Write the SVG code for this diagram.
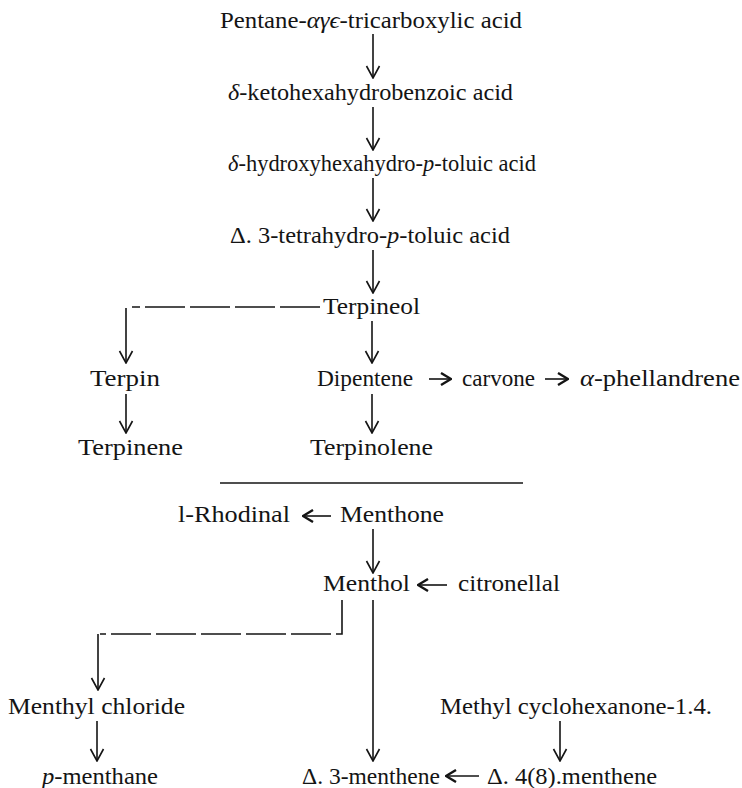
<svg xmlns="http://www.w3.org/2000/svg" width="742" height="788" viewBox="0 0 742 788">
<style>
text{font-family:"Liberation Serif","Times New Roman",serif;font-size:24px;fill:#141414}
.i{font-style:italic}
.ln{stroke:#141414;stroke-width:1.6;fill:none}
.ds{stroke-dasharray:40 5}
.ar{marker-end:url(#v)}
.ah{stroke-width:1.6;marker-end:url(#h)}
</style>
<defs>
<marker id="v" viewBox="0 0 14 16" refX="13" refY="8" markerWidth="14" markerHeight="16" markerUnits="userSpaceOnUse" orient="auto">
<path d="M1,1.5 L13,8 L1,14.5" fill="none" stroke="#141414" stroke-width="1.6"/>
</marker>
<marker id="h" viewBox="0 0 12 14" refX="11" refY="7" markerWidth="12" markerHeight="14" markerUnits="userSpaceOnUse" orient="auto">
<path d="M1,1 L11,7 L1,13" fill="none" stroke="#141414" stroke-width="2.4"/>
</marker>
</defs>
<rect width="742" height="788" fill="#fff"/>
<g id="connectors">
<line class="ln ar" x1="373" y1="34" x2="373" y2="78"/>
<line class="ln ar" x1="373" y1="107" x2="373" y2="150"/>
<line class="ln ar" x1="373" y1="178" x2="373" y2="221"/>
<line class="ln ar" x1="373" y1="250" x2="373" y2="293"/>
<line class="ln ds" x1="320" y1="307" x2="132" y2="307"/>
<line class="ln ar" x1="126" y1="308" x2="126" y2="363"/>
<line class="ln ar" x1="372" y1="321" x2="372" y2="363"/>
<line class="ln ah" x1="429" y1="379" x2="451" y2="379"/>
<line class="ln ah" x1="545" y1="379" x2="568" y2="379"/>
<line class="ln ar" x1="126" y1="394" x2="126" y2="433"/>
<line class="ln ar" x1="372" y1="394" x2="372" y2="433"/>
<line class="ln" x1="220" y1="483" x2="523" y2="483"/>
<line class="ln ah" x1="331" y1="516" x2="303" y2="516"/>
<line class="ln ar" x1="373" y1="529" x2="373" y2="573"/>
<line class="ln ah" x1="447" y1="585" x2="418" y2="585"/>
<polyline class="ln ds" points="342,600 342,634 100,634"/>
<line class="ln ar" x1="98" y1="634" x2="98" y2="690"/>
<line class="ln ar" x1="373" y1="600" x2="373" y2="761"/>
<line class="ln ar" x1="97" y1="721" x2="97" y2="761"/>
<line class="ln ar" x1="560" y1="721" x2="560" y2="761"/>
<line class="ln ah" x1="479" y1="776" x2="446" y2="776"/>
</g>
<g id="pentane"><text x="220" y="28" textLength="302" lengthAdjust="spacingAndGlyphs">Pentane-<tspan class="i">αγϵ</tspan>-tricarboxylic acid</text></g>
<g id="ketohexahydrobenzoic"><text x="228" y="100" textLength="285" lengthAdjust="spacingAndGlyphs"><tspan class="i">δ</tspan>-ketohexahydrobenzoic acid</text></g>
<g id="hydroxyhexahydrotoluic"><text x="228" y="171" textLength="308" lengthAdjust="spacingAndGlyphs"><tspan class="i">δ</tspan>-hydroxyhexahydro-<tspan class="i">p</tspan>-toluic acid</text></g>
<g id="tetrahydrotoluic"><text x="230" y="243" textLength="280" lengthAdjust="spacingAndGlyphs">Δ. 3-tetrahydro-<tspan class="i">p</tspan>-toluic acid</text></g>
<g id="terpineol"><text x="323" y="314" textLength="97" lengthAdjust="spacingAndGlyphs">Terpineol</text></g>
<g id="terpin"><text x="90" y="386" textLength="70" lengthAdjust="spacingAndGlyphs">Terpin</text></g>
<g id="dipentene"><text x="317" y="386" textLength="96" lengthAdjust="spacingAndGlyphs">Dipentene</text></g>
<g id="carvone"><text x="462" y="386" textLength="73" lengthAdjust="spacingAndGlyphs">carvone</text></g>
<g id="phellandrene"><text x="580" y="386" textLength="160" lengthAdjust="spacingAndGlyphs"><tspan class="i">α</tspan>-phellandrene</text></g>
<g id="terpinene"><text x="78" y="455" textLength="105" lengthAdjust="spacingAndGlyphs">Terpinene</text></g>
<g id="terpinolene"><text x="310" y="455" textLength="123" lengthAdjust="spacingAndGlyphs">Terpinolene</text></g>
<g id="rhodinal"><text x="178" y="522" textLength="112" lengthAdjust="spacingAndGlyphs">l-Rhodinal</text></g>
<g id="menthone"><text x="340" y="522" textLength="104" lengthAdjust="spacingAndGlyphs">Menthone</text></g>
<g id="menthol"><text x="323" y="591" textLength="87" lengthAdjust="spacingAndGlyphs">Menthol</text></g>
<g id="citronellal"><text x="458" y="591" textLength="102" lengthAdjust="spacingAndGlyphs">citronellal</text></g>
<g id="menthyl-chloride"><text x="8" y="714" textLength="177" lengthAdjust="spacingAndGlyphs">Menthyl chloride</text></g>
<g id="methyl-cyclohexanone"><text x="440" y="714" textLength="272" lengthAdjust="spacingAndGlyphs">Methyl cyclohexanone-1.4.</text></g>
<g id="p-menthane"><text x="42" y="784" textLength="116" lengthAdjust="spacingAndGlyphs"><tspan class="i">p</tspan>-menthane</text></g>
<g id="d3-menthene"><text x="302" y="784" textLength="138" lengthAdjust="spacingAndGlyphs">Δ. 3-menthene</text></g>
<g id="d48-menthene"><text x="487" y="784" textLength="170" lengthAdjust="spacingAndGlyphs">Δ. 4(8).menthene</text></g>
</svg>
